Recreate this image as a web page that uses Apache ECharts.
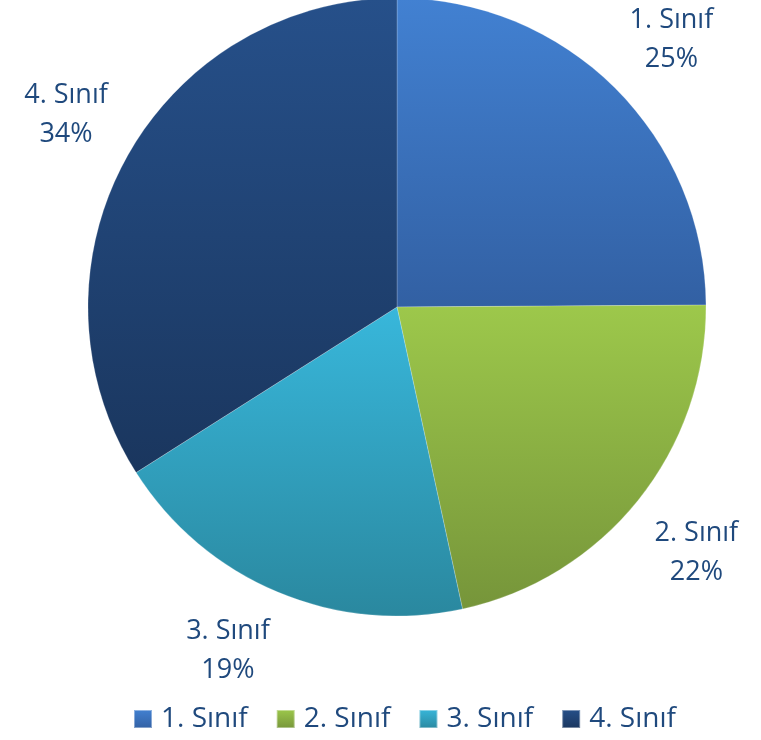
<!DOCTYPE html>
<html><head><meta charset="utf-8">
<script src="https://cdn.jsdelivr.net/npm/echarts@6/dist/echarts.min.js"></script>
<style>html,body{margin:0;padding:0;background:#fff}#c{width:761px;height:740px}</style>
</head><body><div id="c"></div>
<script>
var categories = ['1. Sınıf', '2. Sınıf', '3. Sınıf', '4. Sınıf'];
var values = [24.9, 21.7, 19.4, 34.0];
var topColors = ['#4281d2', '#9dc84b', '#38b7db', '#26508a'];
var bottomColors = ['#3260a3', '#76953a', '#2a889f', '#1a365e'];

var CX = 397, CY = 307, R = 309, CORNER_R = 330;
var total = values.reduce(function(a,b){return a+b;},0);
function midAngle(i){
  var s = 0; for (var k=0;k<i;k++) s += values[k];
  return (s + values[i]/2) / total * 2 * Math.PI;
}
var chart = echarts.init(document.getElementById('c'));
var data = categories.map(function(n,i){
  return {name:n, value:values[i], itemStyle:{color:new echarts.graphic.LinearGradient(0,0,0,1,[{offset:0,color:topColors[i]},{offset:1,color:bottomColors[i]}])}};
});
chart.setOption({
  animation:false,
  legend:{bottom:2,left:128,itemWidth:18,itemHeight:18,itemGap:28,icon:'rect',
    textStyle:{fontFamily:'Open Sans',fontSize:28,color:'#1f497d',padding:[0,0,0,4]},data:categories},
  series:[{type:'pie',center:[CX,CY],radius:[0,R],startAngle:90,clockwise:true,
    avoidLabelOverlap:false,
    itemStyle:{borderColor:'rgba(255,255,255,0.4)',borderWidth:0.5},
    label:{show:true,position:'outside',
      formatter:function(p){return p.name + '\n' + Math.round(p.percent) + '%';},
      fontFamily:'Open Sans',fontSize:27,lineHeight:39,color:'#1f497d',align:'center'},
    labelLine:{show:false,length:10,length2:0},
    labelLayout:function(p){
      var a = midAngle(p.dataIndex);
      var w = p.labelRect.width, h = p.labelRect.height;
      var s = Math.sin(a), c = Math.cos(a);
      var x = CX + CORNER_R*s + (s >= 0 ? 1 : -1) * w/2;
      var y = CY - CORNER_R*c - (c >= 0 ? 0.42 : -0.5) * h;
      return {x: x, y: y, align:'center', verticalAlign:'middle'};
    },
    data:data}]
});
</script></body></html>
